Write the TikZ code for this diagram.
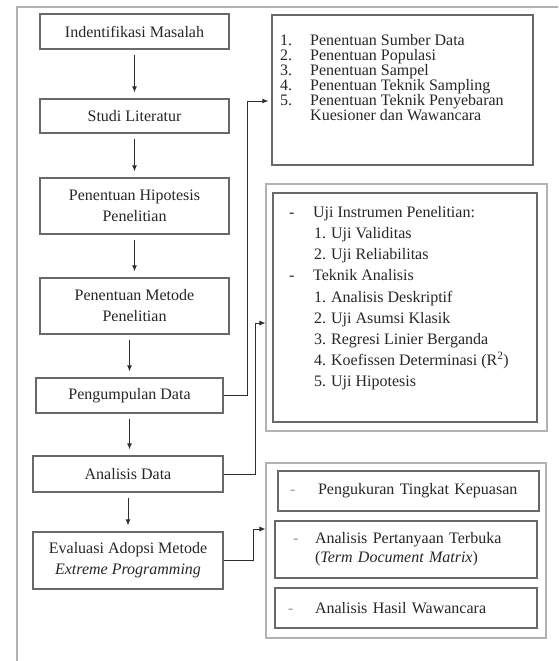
\documentclass[tikz,border=0pt]{standalone}
\usepackage{fontspec}
\setmainfont{Liberation Serif}
\usetikzlibrary{arrows.meta, calc}

\definecolor{boxgray}{RGB}{105,105,105}
\definecolor{framegray}{RGB}{178,178,178}
\definecolor{linegray}{RGB}{45,45,45}
\definecolor{dashgray}{RGB}{150,150,150}

\newcommand{\stepfont}{\fontsize{16pt}{21pt}\selectfont}
\newcommand{\tightfont}{\fontsize{16pt}{15pt}\selectfont}

\tikzset{
    % boxes of the main flow on the left
    stepbox/.style={draw=boxgray, line width=1.3pt, align=center, font=\stepfont, inner sep=0pt},
    % boxes holding the detail lists on the right
    listbox/.style={draw=boxgray, line width=1.3pt, inner sep=0pt, align=left, font=\stepfont},
    listtext/.style={align=left, inner sep=0pt, font=\stepfont},
    % light frame round a group of boxes
    groupframe/.style={draw=framegray, line width=1.1pt, inner sep=0pt},
    % arrow from box to box
    flow/.style={draw=linegray, line width=0.9pt, -{Latex[length=6pt,width=5pt]}}
}

\begin{document}
\begin{tikzpicture}[x=1pt, y=-1pt, text=black!85]
    \useasboundingbox (0,0) rectangle (558,661);
    \draw[framegray, line width=1.1pt] (558,7) -- (17,7) -- (17,661);

    % main flow
    \node[stepbox, minimum width=189pt, minimum height=35pt] (idm) at (134.5,31.5) {Indentifikasi Masalah};
    \node[stepbox, minimum width=189pt, minimum height=34pt] (lit) at (134.5,116) {Studi Literatur};
    \node[stepbox, minimum width=189pt, minimum height=56pt] (hip) at (134.5,206) {Penentuan Hipotesis\\Penelitian};
    \node[stepbox, minimum width=189pt, minimum height=56pt] (met) at (134.5,306) {Penentuan Metode\\Penelitian};
    \node[stepbox, minimum width=187pt, minimum height=35pt] (kum) at (129.5,395.5) {Pengumpulan Data};
    \node[stepbox, minimum width=190pt, minimum height=36pt] (ana) at (128,474) {Analisis Data};
    \node[stepbox, minimum width=190pt, minimum height=57pt] (eva) at (128,560.5) {Evaluasi Adopsi Metode\\\textit{Extreme Programming}};

    \begin{scope}[shorten >=6pt, shorten <=5pt]
        \draw[flow] (idm) -- (lit);
        \draw[flow] (lit) -- (hip);
        \draw[flow] (hip.south) -- (hip.south |- met.north);
        \draw[flow] (met.south -| kum) -- (kum.north);
        \draw[flow] (kum.south) -- (kum.south |- ana.north);
        \draw[flow] (ana.south) -- (ana.south |- eva.north);
    \end{scope}

    % data sources
    \node[listbox, minimum width=261pt, minimum height=150pt] (src) at (402.5,90) {};
    \node[listtext, font=\tightfont, anchor=north west] (srctxt) at (280,34) {%
        \makebox[30pt][l]{1.}Penentuan Sumber Data\\
        \makebox[30pt][l]{2.}Penentuan Populasi\\
        \makebox[30pt][l]{3.}Penentuan Sampel\\
        \makebox[30pt][l]{4.}Penentuan Teknik Sampling\\
        \makebox[30pt][l]{5.}Penentuan Teknik Penyebaran\\
        \hspace*{30pt}Kuesioner dan Wawancara};

    % analysis methods
    \node[groupframe, minimum width=281pt, minimum height=247pt] (grp2) at (406.5,307.5) {};
    \node[listbox, minimum width=264pt, minimum height=229pt] (mtd) at (405,307.5) {};
    \node[listtext, font=\fontsize{16pt}{21.2pt}\selectfont, anchor=north west] (mtdtxt) at (289,206) {%
        \makebox[24pt][l]{-}Uji Instrumen Penelitian:\\
        \hspace*{25pt}\makebox[17pt][l]{1.}Uji Validitas\\
        \hspace*{25pt}\makebox[17pt][l]{2.}Uji Reliabilitas\\
        \makebox[24pt][l]{-}Teknik Analisis\\
        \hspace*{25pt}\makebox[17pt][l]{1.}Analisis Deskriptif\\
        \hspace*{25pt}\makebox[17pt][l]{2.}Uji Asumsi Klasik\\
        \hspace*{25pt}\makebox[17pt][l]{3.}Regresi Linier Berganda\\
        \hspace*{25pt}\makebox[17pt][l]{4.}Koefissen Determinasi (R\textsuperscript{2})\\
        \hspace*{25pt}\makebox[17pt][l]{5.}Uji Hipotesis};

    % evaluation steps
    \node[groupframe, minimum width=280pt, minimum height=175pt] (grp3) at (406,550.5) {};
    \node[listbox, minimum height=40pt, inner xsep=12pt, text width=237pt] (puas) at (408.5,491) {%
        \makebox[28pt][l]{\textcolor{dashgray}{-}}Pengukuran Tingkat Kepuasan};
    \node[listbox, minimum height=57pt, inner xsep=18pt, text width=226pt, font=\fontsize{16pt}{19pt}\selectfont] (tdm) at (406,549.5) {%
        \makebox[22pt][l]{\textcolor{dashgray}{-}}Analisis Pertanyaan Terbuka\\
        \hspace*{22pt}(\textit{Term Document Matrix})};
    \node[listbox, minimum height=40pt, inner xsep=13pt, text width=236pt] (waw) at (406,608) {%
        \makebox[27pt][l]{\textcolor{dashgray}{-}}Analisis Hasil Wawancara};

    % links to the detail boxes
    \draw[flow, shorten >=3pt] (kum.east) -- ++(24,0) |- ([yshift=-11pt]src.west);
    \draw[flow] (ana.east) -- ++(32,0) |- ([yshift=-15.5pt]grp2.west);
    \draw[flow] (eva.east) -- ++(30,0) |- ([yshift=21.5pt]grp3.west);
\end{tikzpicture}
\end{document}
